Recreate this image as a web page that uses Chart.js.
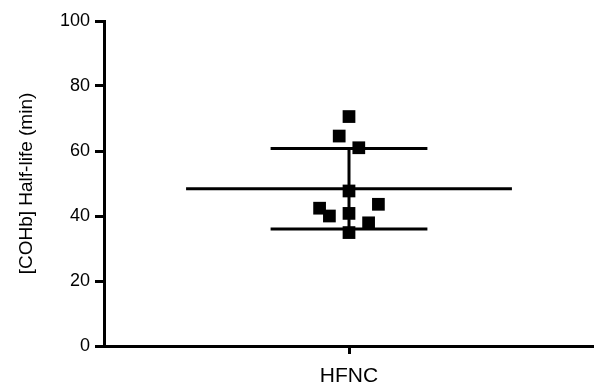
<!DOCTYPE html>
<html>
<head>
    <title>COHb Half-life</title>
    <script src="https://cdn.jsdelivr.net/npm/chart.js"></script>
    <style>
        body { margin: 0; background: #fff; }
        #wrap { width: 594px; height: 387px; }
    </style>
</head>
<body>
<div id="wrap"><canvas id="chart"></canvas></div>
<script>
    var categories = ['HFNC'];
    var halfLife = [70.6, 64.6, 61.0, 47.7, 43.6, 42.4, 40.8, 40.0, 37.9, 34.9];  // minutes
    var jitter = [0, -0.04, 0.04, 0, 0.12, -0.12, 0, -0.08, 0.08, 0];          // spread around the category
    var meanValue = 48.4;
    var sdValue = 12.4;
    var yTicks = [0, 20, 40, 60, 80, 100];

    var catX = 1;  // category position on the linear x scale
    var points = halfLife.map((v, i) => ({x: catX + jitter[i], y: v}));

    function hline(y, half) {
        return [{x: catX - half, y: y}, {x: catX + half, y: y}];
    }

    var lineStyle = {
        type: 'line',
        borderColor: '#000',
        borderWidth: 3,
        pointRadius: 0,
        fill: false
    };

    var ctx = document.getElementById('chart').getContext('2d');
    var chart = new Chart(ctx, {
        type: 'scatter',
        data: {
            datasets: [{
                label: 'Half-life',
                data: points,
                pointStyle: 'rect',
                pointRadius: 9,
                pointBorderWidth: 0,
                backgroundColor: '#000',
                borderColor: '#000'
            },
            Object.assign({label: 'Mean', data: hline(meanValue, 0.665)}, lineStyle),
            Object.assign({label: '+SD', data: hline(meanValue + sdValue, 0.32)}, lineStyle),
            Object.assign({label: '-SD', data: hline(meanValue - sdValue, 0.32)}, lineStyle),
            Object.assign({label: 'SD', data: [{x: catX, y: meanValue - sdValue}, {x: catX, y: meanValue + sdValue}]}, lineStyle)
            ]
        },
        options: {
            responsive: true,
            maintainAspectRatio: false,
            animation: false,
            layout: { autoPadding: false, padding: { top: 21, right: 0, left: 0, bottom: 0 } },
            plugins: {
                legend: { display: false },
                tooltip: { enabled: false }
            },
            scales: {
                x: {
                    type: 'linear',
                    min: 0,
                    max: 2,
                    afterBuildTicks: function(scale) {
                        scale.ticks = categories.map((c, i) => ({value: catX + i}));
                    },
                    afterFit: function(scale) { scale.height = 41; },
                    ticks: {
                        color: '#000',
                        padding: 10,
                        maxRotation: 0,
                        font: { family: '"Liberation Sans", Arial, sans-serif', size: 21 },
                        callback: function(value) { return categories[Math.round(value) - catX]; }
                    },
                    grid: { drawOnChartArea: false, drawTicks: true, tickLength: 8, color: '#000', lineWidth: 3 },
                    border: { display: true, color: '#000', width: 3 }
                },
                y: {
                    min: 0,
                    max: 100,
                    afterBuildTicks: function(scale) {
                        scale.ticks = yTicks.map(v => ({value: v}));
                    },
                    afterFit: function(scale) { scale.width = 104; },
                    ticks: {
                        color: '#000',
                        padding: 5,
                        font: { family: '"Liberation Sans", Arial, sans-serif', size: 18 }
                    },
                    grid: { drawOnChartArea: false, drawTicks: true, tickLength: 9, color: '#000', lineWidth: 3 },
                    border: { display: true, color: '#000', width: 3 },
                    title: {
                        display: true,
                        text: '[COHb] Half-life (min)',
                        color: '#000',
                        padding: { top: 15, bottom: 4 },
                        font: { family: '"Liberation Sans", Arial, sans-serif', size: 19 }
                    }
                }
            }
        }
    });
</script>
</body>
</html>
